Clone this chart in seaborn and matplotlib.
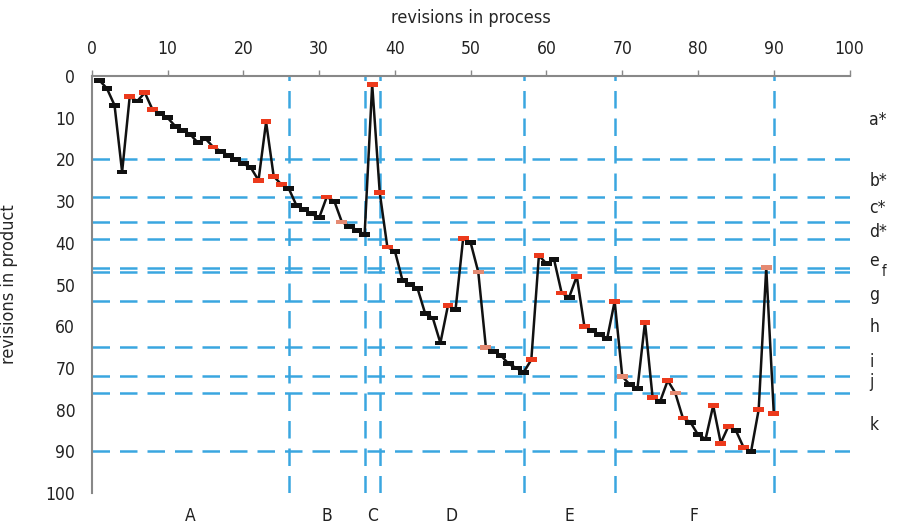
import matplotlib
matplotlib.use("Agg")
import matplotlib.pyplot as plt
import seaborn as sns
import pandas as pd

# revisions in process (x) vs revisions in product (y)
process_rev = list(range(1, 91))
product_rev = [1, 3, 7, 23, 5, 6, 4, 8, 9, 10,
               12, 13, 14, 16, 15, 17, 18, 19, 20, 21,
               22, 25, 11, 24, 26, 27, 31, 32, 33, 34,
               29, 30, 35, 36, 37, 38, 2, 28, 41, 42,
               49, 50, 51, 57, 58, 64, 55, 56, 39, 40,
               47, 65, 66, 67, 69, 70, 71, 68, 43, 45,
               44, 52, 53, 48, 60, 61, 62, 63, 54, 72,
               74, 75, 59, 77, 78, 73, 76, 82, 83, 86,
               87, 79, 88, 84, 85, 89, 90, 80, 46, 81]

red_pts = [5, 7, 8, 16, 22, 23, 24, 25, 31, 37, 38, 39, 47, 49, 58, 59, 62,
           64, 65, 69, 73, 74, 76, 78, 82, 83, 84, 86, 88, 90]
pink_pts = [33, 51, 52, 70, 77, 89]

# phase boundaries and labels
phase_bounds = [26, 36, 38, 57, 69, 90]
phase_labels = ["A", "B", "C", "D", "E", "F"]
phase_centers = [13, 31, 37, 47.5, 63, 79.5]

level_lines = [20, 29, 35, 39, 46, 47, 54, 65, 72, 76, 90]
level_labels = ["a*", "b*", "c*", "d*", "e", "f", "g", "h", "i", "j", "k"]
level_label_y = [10.5, 25.2, 31.7, 37.4, 44.4, 46.8, 52.5, 60.2, 68.6, 73.4, 83.7]

kind = ["red" if x in red_pts else "pink" if x in pink_pts else "black"
        for x in process_rev]
df = pd.DataFrame({"process": process_rev, "product": product_rev, "kind": kind})

sns.set_style("white")
plt.rcParams["font.family"] = ["DejaVu Sans"]
plt.rcParams["font.stretch"] = "condensed"

fig = plt.figure(figsize=(9, 5.28), dpi=100)
ax = fig.add_axes([0.102, 0.066, 0.842, 0.790])

blue = "#3aa6e0"
for y in level_lines:
    ax.axhline(y, color=blue, lw=1.8, dashes=(7, 4), zorder=1)
for x in phase_bounds:
    ax.axvline(x, color=blue, lw=1.8, dashes=(7, 4), zorder=1)

sns.lineplot(data=df, x="process", y="product", sort=False, color="#111111",
             lw=1.8, ax=ax, zorder=3)

dash = [(-1, -0.45), (1, -0.45), (1, 0.45), (-1, 0.45)]
sns.scatterplot(data=df, x="process", y="product", hue="kind",
                palette={"black": "#111111", "red": "#ec3a1c", "pink": "#e58a72"},
                marker=dash, s=60, linewidth=0, edgecolor="none",
                legend=False, ax=ax, zorder=4)

ax.set_xlim(0, 100)
ax.set_ylim(100, 0)
ax.set_xticks(range(0, 101, 10))
ax.set_yticks(range(0, 101, 10))
ax.xaxis.tick_top()
ax.xaxis.set_label_position("top")
ax.tick_params(axis="both", labelsize=12.5, length=4, width=1, direction="out",
               colors="#888888", labelcolor="#222222")
ax.tick_params(axis="x", pad=9)
ax.tick_params(axis="y", pad=8)
for s in ["right", "bottom"]:
    ax.spines[s].set_visible(False)
for s in ["top", "left"]:
    ax.spines[s].set_color("#888888")
    ax.spines[s].set_linewidth(1.5)

ax.set_xlabel("revisions in process", fontsize=13, labelpad=12)
ax.set_ylabel("revisions in product", fontsize=13, labelpad=20)

for lab, cx in zip(phase_labels, phase_centers):
    ax.text(cx, 105.5, lab, ha="center", va="center", fontsize=12.5,
            clip_on=False, color="#222222")
for lab, ly in zip(level_labels, level_label_y):
    dx = 104.3 if lab == "f" else 102.6
    fs = 10.5 if lab == "f" else 12.5
    ax.text(dx, ly, lab, ha="left", va="center", fontsize=fs,
            clip_on=False, color="#222222")

fig.savefig("out.png", dpi=100)
